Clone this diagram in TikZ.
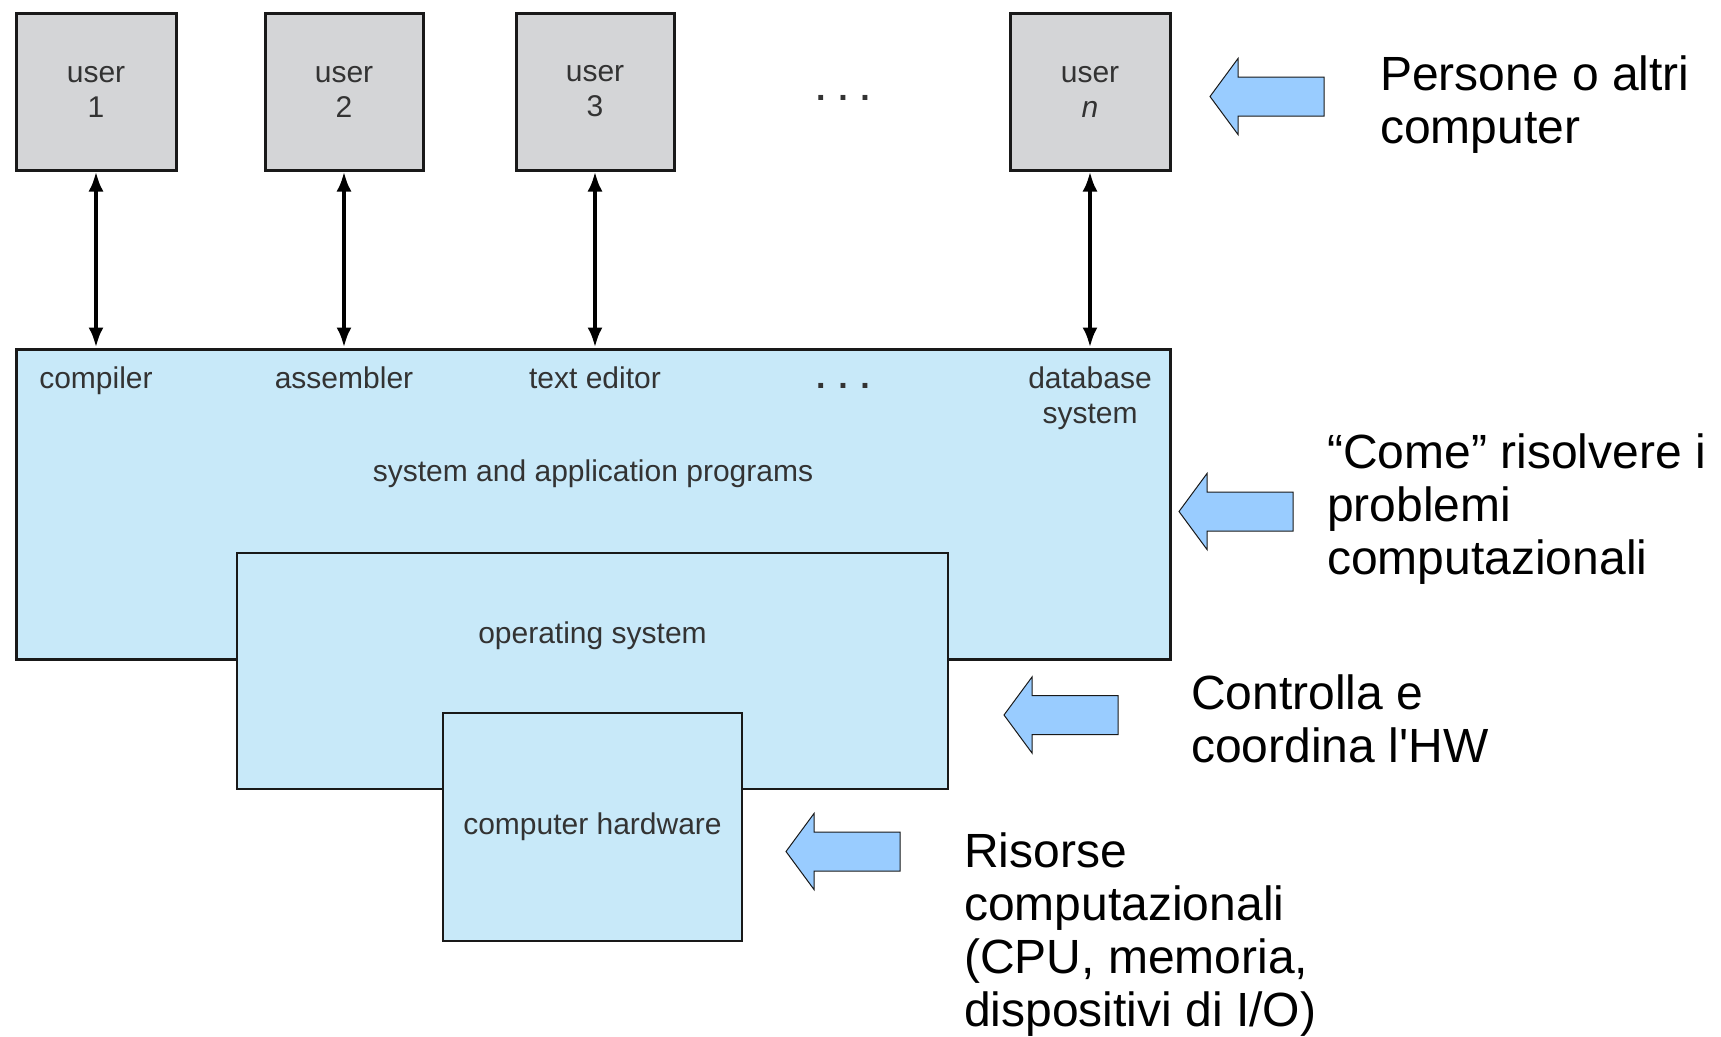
\documentclass[tikz,border=0pt]{standalone}
\usepackage{fontspec}
\setmainfont{Liberation Sans}[Ligatures=TeXOff]
\usetikzlibrary{arrows.meta}

\definecolor{userfill}{RGB}{212,213,215}
\definecolor{layerfill}{RGB}{200,233,249}
\definecolor{calloutfill}{RGB}{153,204,255}
\definecolor{labelgray}{RGB}{51,51,51}
\definecolor{edge}{RGB}{25,25,25}

\tikzset{
  userbox/.style={draw=edge, line width=3pt, fill=userfill, inner sep=0pt,
    minimum width=160pt, minimum height=157pt, text=labelgray,
    font=\fontsize{30}{35}\selectfont, align=center},
  layerbox/.style={draw=edge, fill=layerfill, inner sep=0pt, text=labelgray,
    font=\fontsize{30}{35}\selectfont, align=center},
  lbl/.style={text=labelgray, font=\fontsize{30}{35}\selectfont, anchor=base,
    inner sep=0pt, align=center},
  dots/.style={text=labelgray, font=\fontsize{34}{35}\selectfont\bfseries,
    anchor=base, inner sep=0pt},
  note/.style={text=black, font=\fontsize{48}{53}\selectfont, anchor=base west,
    inner sep=0pt, align=left},
  biarrow/.style={draw=black, line width=4.5pt,
    {Latex[length=20pt,width=15pt]}-{Latex[length=20pt,width=15pt]}},
  callout/.pic={
    \filldraw[fill=calloutfill, draw=edge, line width=1pt]
      (0,0) -- (28,-38) -- (28,-19.5) -- (114,-19.5) -- (114,19.5)
      -- (28,19.5) -- (28,38) -- cycle;
  }
}

\begin{document}
\begin{tikzpicture}[x=1pt, y=-1pt]
  \useasboundingbox (0,0) rectangle (1721,1036);

  % users
  \node[userbox] (u1) at (96,91.5)   {user\\1};
  \node[userbox, minimum width=158pt] (u2) at (344,91.5)  {user\\2};
  \node[userbox, minimum width=158pt] (u3) at (595,91.5)  {user\\3};
  \node[userbox] (un) at (1090,91.5) {user\\\textit{n}};
  \node[dots] (udots) at (843,100) {. . .};

  % layers
  \node[layerbox, line width=3pt, minimum width=1154pt, minimum height=310pt]
    (apps) at (593,504) {};
  \node[layerbox, line width=2pt, minimum width=711pt, minimum height=236pt]
    (os) at (592.5,671) {};
  \node[layerbox, line width=2pt, minimum width=299pt, minimum height=228pt]
    (hw) at (592.5,827) {computer hardware};

  % program labels (base anchor = last line)
  \node[lbl] (comp) at (96,388)   {compiler};
  \node[lbl] (asm)  at (344,388)  {assembler};
  \node[lbl] (ted)  at (595,388)  {text editor};
  \node[dots] (pdots) at (843,388) {. . .};
  \node[lbl] (db)   at (1090,423) {database\\system};
  \node[lbl] (sap)  at (593,481)  {system and application programs};
  \node[lbl] (osl)  at (592.5,643) {operating system};

  % user <-> program connectors
  \draw[biarrow] (u1.south) -- (u1.south |- apps.north);
  \draw[biarrow] (u2.south) -- (u2.south |- apps.north);
  \draw[biarrow] (u3.south) -- (u3.south |- apps.north);
  \draw[biarrow] (un.south) -- (un.south |- apps.north);

  % callouts
  \pic (c1) at (1210,96.5)  {callout};
  \pic (c2) at (1179,511.5) {callout};
  \pic (c3) at (1004,715)   {callout};
  \pic (c4) at (786,851.5)  {callout};

  \node[note] (n1) at (1380,143)  {Persone o altri\\computer};
  \node[note] (n2) at (1327,574)  {“Come” risolvere i\\problemi\\computazionali};
  \node[note] (n3) at (1191,762)  {Controlla e\\coordina l'HW};
  \node[note] (n4) at (964,1026)  {Risorse\\computazionali\\(CPU, memoria,\\dispositivi di I/O)};
\end{tikzpicture}
\end{document}
